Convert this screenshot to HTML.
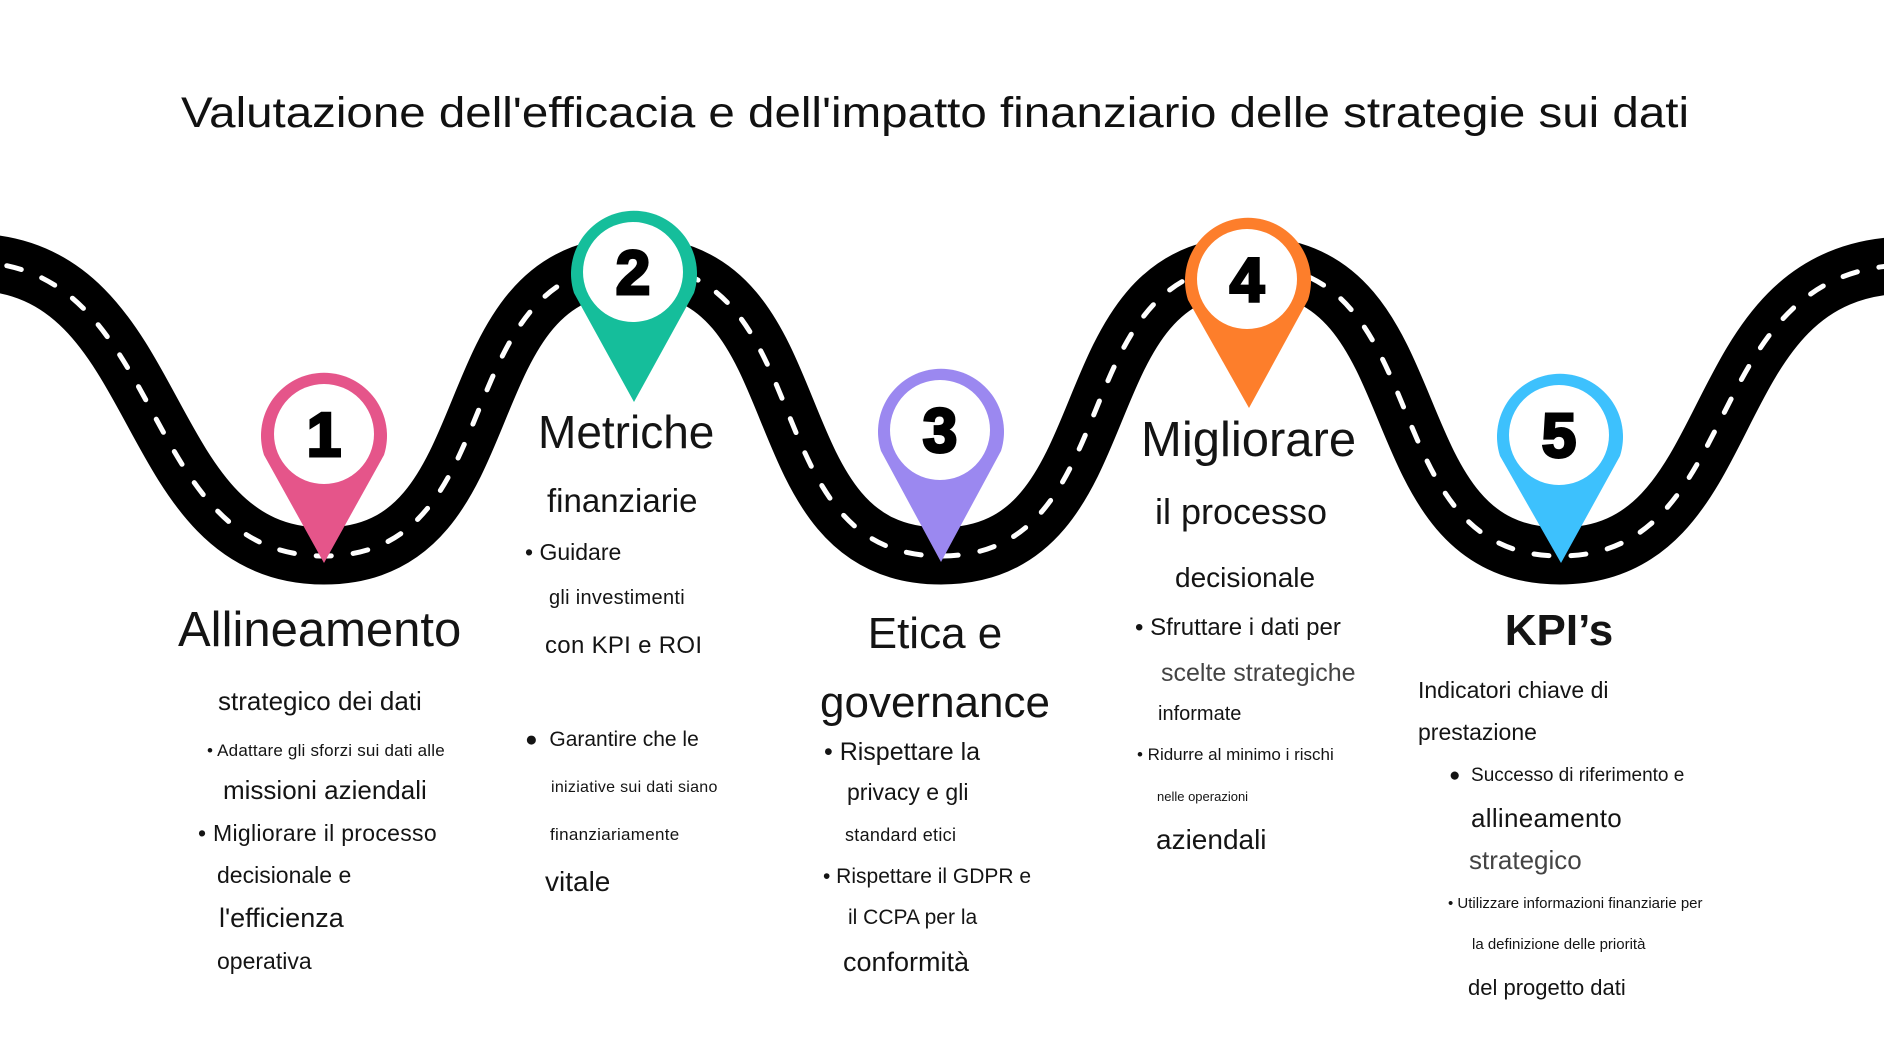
<!DOCTYPE html>
<html><head><meta charset="utf-8"><style>
html,body{margin:0;padding:0;background:#fff;}
#c{position:relative;width:1884px;height:1060px;overflow:hidden;font-family:"Liberation Sans",sans-serif;color:#141414;}
.t{position:absolute;white-space:nowrap;line-height:1;}
.g{color:#444;}
</style></head><body><div id="c">
<svg width="1884" height="1060" style="position:absolute;left:0;top:0">
<path d="M -30 262 C 170 262, 134 556, 324 556 S 443 265, 633 265 S 751 556, 941 556 S 1060 265, 1250 265 S 1370 556, 1560 556 S 1694 265, 1910 265" fill="none" stroke="#000" stroke-width="57"/>
<path d="M -30 262 C 170 262, 134 556, 324 556 S 443 265, 633 265 S 751 556, 941 556 S 1060 265, 1250 265 S 1370 556, 1560 556 S 1694 265, 1910 265" fill="none" stroke="#fff" stroke-width="5" stroke-dasharray="15 22" stroke-linecap="round"/>
<g>
<path d="M 324 563 L 264 455 A 63 63 0 1 1 384 455 Z" fill="#e5558a"/>
<circle cx="324" cy="434" r="50" fill="#fff"/>
<path d="M 634 402 L 574 293 A 63 63 0 1 1 694 293 Z" fill="#15be9b"/>
<circle cx="633" cy="272" r="50" fill="#fff"/>
<path d="M 941 562 L 881 451 A 63 63 0 1 1 1001 451 Z" fill="#9b88f0"/>
<circle cx="940" cy="430" r="50" fill="#fff"/>
<path d="M 1249 408 L 1188 300 A 63 63 0 1 1 1308 300 Z" fill="#fd7e2b"/>
<circle cx="1247" cy="279" r="50" fill="#fff"/>
<path d="M 1561 563 L 1500 456 A 63 63 0 1 1 1620 456 Z" fill="#3dc1fd"/>
<circle cx="1559" cy="435" r="50" fill="#fff"/>
</g>
<g font-family="Liberation Sans, sans-serif" font-weight="bold" font-size="62" text-anchor="middle" fill="#000" stroke="#000" stroke-width="3">
<text x="324" y="456">1</text>
<text x="633" y="294">2</text>
<text x="940" y="452">3</text>
<text x="1247" y="301">4</text>
<text x="1559" y="457">5</text>
</g>
<text x="181" y="127" font-family="Liberation Sans, sans-serif" font-size="43" fill="#111" textLength="1508" lengthAdjust="spacingAndGlyphs">Valutazione dell'efficacia e dell'impatto finanziario delle strategie sui dati</text>
</svg>

<!-- col1 -->
<div class="t" style="left:178px;top:606px;font-size:49px">Allineamento</div>
<div class="t" style="left:218px;top:688px;font-size:26px">strategico dei dati</div>
<div class="t" style="left:207px;top:742px;font-size:17px;letter-spacing:0.2px">• Adattare gli sforzi sui dati alle</div>
<div class="t" style="left:223px;top:777px;font-size:26px">missioni aziendali</div>
<div class="t" style="left:198px;top:822px;font-size:23px;letter-spacing:0.3px">• Migliorare il processo</div>
<div class="t" style="left:217px;top:864px;font-size:23px">decisionale e</div>
<div class="t" style="left:219px;top:905px;font-size:27px">l'efficienza</div>
<div class="t" style="left:217px;top:950px;font-size:23px">operativa</div>
<!-- col2 -->
<div class="t" style="left:538px;top:409px;font-size:46px">Metriche</div>
<div class="t" style="left:547px;top:484px;font-size:33px">finanziarie</div>
<div class="t" style="left:525px;top:541px;font-size:23px">• Guidare</div>
<div class="t" style="left:549px;top:588px;font-size:20px;letter-spacing:0.3px">gli investimenti</div>
<div class="t" style="left:545px;top:634px;font-size:24px;letter-spacing:0.3px">con KPI e ROI</div>
<div class="t" style="left:525px;top:729px;font-size:21px">●&nbsp; Garantire che le</div>
<div class="t" style="left:551px;top:780px;font-size:16px;letter-spacing:0.3px">iniziative sui dati siano</div>
<div class="t" style="left:550px;top:826px;font-size:17px;letter-spacing:0.3px">finanziariamente</div>
<div class="t" style="left:545px;top:868px;font-size:28px">vitale</div>
<!-- col3 -->
<div class="t" style="left:815px;top:612px;font-size:44px;width:240px;text-align:center">Etica e</div>
<div class="t" style="left:815px;top:681px;font-size:44px;width:240px;text-align:center">governance</div>
<div class="t" style="left:824px;top:740px;font-size:25px">• Rispettare la</div>
<div class="t" style="left:847px;top:781px;font-size:23px">privacy e gli</div>
<div class="t" style="left:845px;top:826px;font-size:18px;letter-spacing:0.3px">standard etici</div>
<div class="t" style="left:823px;top:866px;font-size:21px">• Rispettare il GDPR e</div>
<div class="t" style="left:848px;top:907px;font-size:21px">il CCPA per la</div>
<div class="t" style="left:843px;top:949px;font-size:27px">conformità</div>
<!-- col4 -->
<div class="t" style="left:1141px;top:416px;font-size:49px">Migliorare</div>
<div class="t" style="left:1155px;top:494px;font-size:36px">il processo</div>
<div class="t" style="left:1175px;top:564px;font-size:28px">decisionale</div>
<div class="t" style="left:1135px;top:616px;font-size:24px">• Sfruttare i dati per</div>
<div class="t g" style="left:1161px;top:661px;font-size:25px">scelte strategiche</div>
<div class="t" style="left:1158px;top:704px;font-size:20px">informate</div>
<div class="t" style="left:1137px;top:746px;font-size:17px">• Ridurre al minimo i rischi</div>
<div class="t" style="left:1157px;top:790px;font-size:13px">nelle operazioni</div>
<div class="t" style="left:1156px;top:826px;font-size:28px">aziendali</div>
<!-- col5 -->
<div class="t" style="left:1459px;top:609px;font-size:44px;font-weight:bold;width:200px;text-align:center">KPI’s</div>
<div class="t" style="left:1418px;top:679px;font-size:23px">Indicatori chiave di</div>
<div class="t" style="left:1418px;top:721px;font-size:23px">prestazione</div>
<div class="t" style="left:1449px;top:766px;font-size:19px">●&nbsp; Successo di riferimento e</div>
<div class="t" style="left:1471px;top:805px;font-size:26px;letter-spacing:0.3px">allineamento</div>
<div class="t g" style="left:1469px;top:847px;font-size:26px">strategico</div>
<div class="t" style="left:1448px;top:896px;font-size:15px">• Utilizzare informazioni finanziarie per</div>
<div class="t" style="left:1472px;top:937px;font-size:15px">la definizione delle priorità</div>
<div class="t" style="left:1468px;top:977px;font-size:22px">del progetto dati</div>
</div></body></html>
